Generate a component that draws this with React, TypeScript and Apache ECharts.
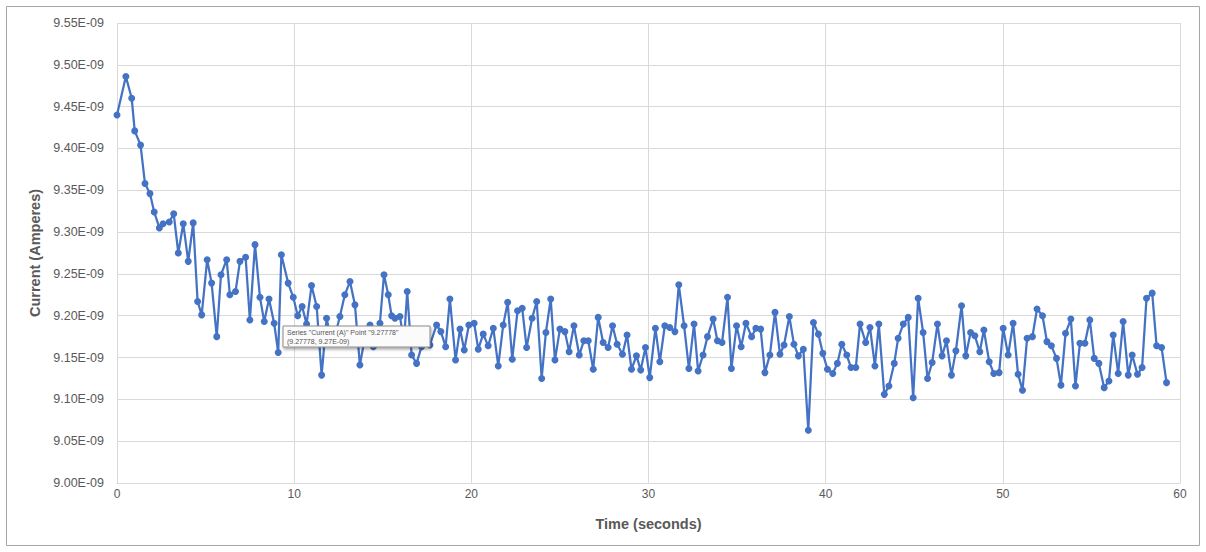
import React, { useEffect, useRef } from "react";
import * as echarts from "echarts";

// Time in seconds
const timeSeconds: number[] = [
  0, 0.5, 0.83, 1.0, 1.33, 1.58, 1.86, 2.1, 2.39, 2.6, 2.95, 3.2, 3.46, 3.74, 4.02, 4.3, 4.55, 4.78, 5.09, 5.34,
  5.63, 5.87, 6.19, 6.37, 6.69, 6.94, 7.26, 7.5, 7.79, 8.07, 8.31, 8.58, 8.87, 9.1, 9.27778, 9.66, 9.95, 10.2, 10.45, 10.7,
  10.98, 11.27, 11.55, 11.83, 12.1, 12.35, 12.58, 12.86, 13.15, 13.43, 13.71, 14.0, 14.28, 14.47, 14.65, 14.84, 15.07, 15.31, 15.5, 15.69,
  15.97, 16.2, 16.38, 16.63, 16.91, 17.19, 17.45, 17.66, 18.04, 18.28, 18.55, 18.79, 19.11, 19.36, 19.6, 19.86, 20.16, 20.39, 20.67, 20.95,
  21.24, 21.52, 21.8, 22.05, 22.31, 22.61, 22.87, 23.12, 23.43, 23.69, 23.97, 24.21, 24.48, 24.72, 25.0, 25.28, 25.52, 25.79, 26.09, 26.35,
  26.6, 26.88, 27.16, 27.44, 27.72, 27.97, 28.23, 28.53, 28.79, 29.04, 29.32, 29.56, 29.83, 30.07, 30.39, 30.64, 30.92, 31.2, 31.49, 31.71,
  32.01, 32.28, 32.57, 32.8, 33.08, 33.33, 33.65, 33.89, 34.15, 34.46, 34.68, 34.97, 35.23, 35.5, 35.82, 36.06, 36.33, 36.57, 36.85, 37.14,
  37.42, 37.65, 37.95, 38.21, 38.46, 38.74, 39.02, 39.31, 39.59, 39.84, 40.1, 40.4, 40.66, 40.91, 41.19, 41.43, 41.7, 41.94, 42.26, 42.5,
  42.78, 43.0, 43.31, 43.57, 43.87, 44.09, 44.38, 44.66, 44.94, 45.22, 45.5, 45.75, 46.01, 46.31, 46.57, 46.82, 47.1, 47.35, 47.67, 47.91,
  48.18, 48.42, 48.7, 48.93, 49.23, 49.49, 49.79, 50.02, 50.3, 50.58, 50.86, 51.11, 51.37, 51.67, 51.93, 52.24, 52.49, 52.74, 53.03, 53.28,
  53.54, 53.84, 54.1, 54.35, 54.63, 54.91, 55.16, 55.42, 55.72, 55.99, 56.23, 56.51, 56.79, 57.08, 57.3, 57.6, 57.86, 58.11, 58.43, 58.68,
  58.96, 59.24,
];

// Current in units of 1E-09 A
const currentNanoAmps: number[] = [
  9.44, 9.486, 9.46, 9.421, 9.404, 9.358, 9.346, 9.324, 9.305, 9.31, 9.312, 9.322, 9.275, 9.31, 9.265, 9.311, 9.217, 9.201, 9.267, 9.239,
  9.175, 9.249, 9.267, 9.225, 9.229, 9.265, 9.27, 9.195, 9.285, 9.222, 9.193, 9.22, 9.191, 9.156, 9.273, 9.239, 9.222, 9.2, 9.211, 9.19,
  9.236, 9.211, 9.129, 9.197, 9.17, 9.18, 9.199, 9.225, 9.241, 9.213, 9.141, 9.175, 9.189, 9.163, 9.17, 9.191, 9.249, 9.225, 9.2, 9.197,
  9.199, 9.17, 9.229, 9.153, 9.143, 9.163, 9.17, 9.165, 9.189, 9.181, 9.163, 9.22, 9.147, 9.184, 9.159, 9.189, 9.191, 9.16, 9.178, 9.164,
  9.185, 9.14, 9.189, 9.216, 9.148, 9.206, 9.209, 9.162, 9.197, 9.217, 9.125, 9.18, 9.22, 9.147, 9.184, 9.181, 9.157, 9.188, 9.153, 9.17,
  9.17, 9.136, 9.198, 9.168, 9.162, 9.188, 9.166, 9.154, 9.177, 9.136, 9.152, 9.135, 9.162, 9.126, 9.185, 9.145, 9.188, 9.186, 9.181, 9.237,
  9.188, 9.137, 9.19, 9.134, 9.153, 9.175, 9.196, 9.17, 9.168, 9.222, 9.137, 9.188, 9.163, 9.191, 9.175, 9.185, 9.184, 9.132, 9.153, 9.204,
  9.154, 9.165, 9.199, 9.166, 9.152, 9.16, 9.063, 9.192, 9.178, 9.155, 9.136, 9.131, 9.143, 9.166, 9.153, 9.138, 9.138, 9.19, 9.168, 9.186,
  9.14, 9.19, 9.106, 9.116, 9.143, 9.173, 9.19, 9.198, 9.102, 9.221, 9.18, 9.125, 9.144, 9.19, 9.152, 9.17, 9.129, 9.158, 9.212, 9.152,
  9.18, 9.176, 9.157, 9.183, 9.145, 9.131, 9.132, 9.185, 9.153, 9.191, 9.13, 9.111, 9.173, 9.175, 9.208, 9.2, 9.169, 9.164, 9.149, 9.117,
  9.179, 9.196, 9.116, 9.167, 9.167, 9.195, 9.149, 9.143, 9.114, 9.122, 9.177, 9.131, 9.193, 9.129, 9.153, 9.13, 9.138, 9.221, 9.227, 9.164,
  9.162, 9.12,
];

const xAxisTitle = "Time (seconds)";
const yAxisTitle = "Current (Amperes)";
const seriesName = "Current (A)";
const tooltipLine1 = 'Series "' + seriesName + '" Point "9.27778"';
const tooltipLine2 = "(9.27778, 9.27E-09)";

const FONT = "'Liberation Sans', Arial, sans-serif";

export default function App() {
  const ref = useRef<HTMLDivElement>(null);

  useEffect(() => {
    document.body.style.margin = "0";
    if (!ref.current) return;
    const chart = echarts.init(ref.current, undefined, { renderer: "svg" });
    const data = timeSeconds.map((t, i) => [t, currentNanoAmps[i]]);
    chart.setOption({
      animation: false,
      backgroundColor: "#ffffff",
      textStyle: { fontFamily: FONT },
      grid: { left: 117, right: 26, top: 23, bottom: 69 },
      xAxis: {
        type: "value",
        min: 0,
        max: 60,
        interval: 10,
        name: xAxisTitle,
        nameLocation: "middle",
        nameGap: 33,
        nameTextStyle: { fontSize: 14.5, fontWeight: "bold", color: "#595959", fontFamily: FONT },
        axisLine: { show: true, lineStyle: { color: "#d9d9d9", width: 1 } },
        axisTick: { show: false },
        axisLabel: { color: "#595959", fontSize: 12, margin: 5, fontFamily: FONT },
        splitLine: { show: true, lineStyle: { color: "#d9d9d9", width: 1 } },
      },
      yAxis: {
        type: "value",
        min: 9.0,
        max: 9.55,
        interval: 0.05,
        name: yAxisTitle,
        nameLocation: "middle",
        nameGap: 72,
        nameRotate: 90,
        nameTextStyle: { fontSize: 14.5, fontWeight: "bold", color: "#595959", fontFamily: FONT },
        axisLine: { show: false },
        axisTick: { show: false },
        axisLabel: {
          color: "#595959",
          fontSize: 12.5,
          margin: 13,
          fontFamily: FONT,
          formatter: (v: number) => v.toFixed(2) + "E-09",
        },
        splitLine: { show: true, lineStyle: { color: "#d9d9d9", width: 1 } },
      },
      series: [
        {
          name: seriesName,
          type: "line",
          data,
          symbol: "circle",
          symbolSize: 7,
          showSymbol: true,
          z: 2,
          lineStyle: { color: "#4472C4", width: 2.25 },
          itemStyle: { color: "#4472C4" },
        },
      ],
      graphic: [
        {
          type: "rect",
          silent: true,
          z: 100,
          shape: { x: 6.5, y: 6.5, width: 1193, height: 539 },
          style: { fill: "none", stroke: "#a6a6a6", lineWidth: 1 },
        },
        {
          type: "group",
          x: 283,
          y: 326,
          z: 100,
          children: [
            {
              type: "rect",
              z: 100,
              shape: { x: 0, y: 0, width: 147, height: 21 },
              style: {
                fill: "#fbfbfb",
                stroke: "#8c8c8c",
                lineWidth: 1,
                shadowBlur: 3,
                shadowOffsetX: 1,
                shadowOffsetY: 2,
                shadowColor: "rgba(0,0,0,0.35)",
              },
            },
            {
              type: "text",
              z: 101,
              x: 4,
              y: 3,
              style: { text: tooltipLine1, fontSize: 7, fill: "#555555", fontFamily: FONT },
            },
            {
              type: "text",
              z: 101,
              x: 4,
              y: 12,
              style: { text: tooltipLine2, fontSize: 7, fill: "#555555", fontFamily: FONT },
            },
          ],
        },
      ],
    });
    return () => chart.dispose();
  }, []);

  return <div ref={ref} style={{ width: 1206, height: 552 }} />;
}
